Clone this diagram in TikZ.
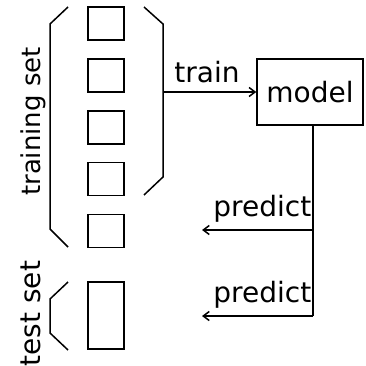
\documentclass[tikz,border=0pt]{standalone}
\usepackage{fontspec}
\setmainfont{DejaVu Sans}
\usetikzlibrary{arrows.meta}
\begin{document}
\begin{tikzpicture}[x=1pt,y=-1pt,
  every path/.style={line width=1.5pt},
  lbl/.style={font=\fontsize{28}{32}\selectfont, inner sep=0pt},
  sample/.style={draw, rectangle, inner sep=0pt, minimum width=36pt, minimum height=33pt},
  arr/.style={-{Straight Barb[length=6pt,width=9pt]}}]
\useasboundingbox (0,0) rectangle (365,366);

% training samples
\node[sample] (s1) at (106,23.5) {};
\node[sample] (s2) at (106,75.5) {};
\node[sample] (s3) at (106,127.5) {};
\node[sample] (s4) at (106,179) {};
\node[sample] (s5) at (106,231) {};
% test sample
\node[sample, minimum height=67pt] (t1) at (106,315.5) {};

% brackets
\draw (68,7) -- (50,24) -- (50,229) -- (68,247);
\draw (144,7) -- (163,24) -- (163,177) -- (144,195);
\draw (68,282) -- (50,299) -- (50,333) -- (68,350);

% set labels
\node[lbl, font=\fontsize{26}{30}\selectfont, rotate=90, anchor=base] (trainset) at (40,121.5) {training set};
\node[lbl, rotate=90, anchor=base] (testset) at (40,313.5) {test set};

% model
\node[draw, rectangle, minimum width=106pt, minimum height=66pt, inner sep=0pt, lbl] (model) at (310,92) {model};

% train arrow
\coordinate (bk) at (163,92);
\draw[arr] (bk) -- (model.west);
\node[lbl, anchor=base] (trainlbl) at (207,83) {train};

% predict arrows
\coordinate (p1) at (313,230);
\coordinate (p2) at (313,316);
\coordinate (q1) at (202,230);
\coordinate (q2) at (202,316);
\draw (model.south -| p1) -- (p2);
\draw[arr] (p1) -- (q1);
\draw[arr] (p2) -- (q2);
\node[lbl, anchor=base east] (pred1) at (312,216) {predict};
\node[lbl, anchor=base east] (pred2) at (312,302) {predict};
\end{tikzpicture}
\end{document}
